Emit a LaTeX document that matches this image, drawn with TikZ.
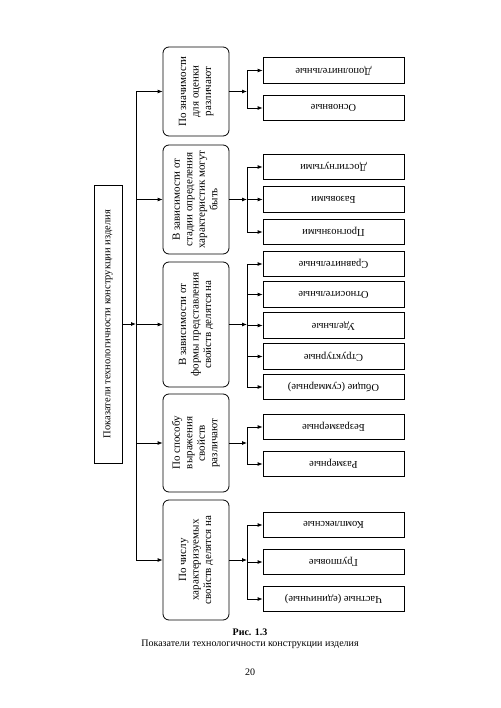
\documentclass[tikz,border=0pt]{standalone}
\usepackage{fontspec}
\setmainfont{Liberation Serif}
\usetikzlibrary{arrows.meta}
\begin{document}
\begin{tikzpicture}[x=1pt,y=-1pt,
    line width=0.8pt,
    arr/.style={-{Latex[length=5pt,width=4pt]}},
    catbox/.style={draw,rounded corners=6pt,minimum width=66pt,inner sep=0pt,
      font=\fontsize{11}{12.5}\selectfont},
    leafbox/.style={draw,minimum width=141pt,minimum height=25.5pt,inner sep=0pt,
      font=\fontsize{10.5}{12}\selectfont}]
    \useasboundingbox[fill=white] (0,0) rectangle (500,708);
    % main box
    \node[draw,minimum width=28pt,minimum height=278pt,inner sep=0pt,
      font=\fontsize{10.5}{12}\selectfont] (main) at (108,324)
      {\rotatebox{90}{Показатели технологичности конструкции изделия}};
    % categories
    \node[catbox,minimum height=89pt] (cat1) at (196,91.5)
      {\rotatebox{90}{\begin{tabular}{@{}c@{}}По значимости\\для оценки\\различают\end{tabular}}};
    \node[catbox,minimum height=109pt] (cat2) at (196,199.5)
      {\rotatebox{90}{\begin{tabular}{@{}c@{}}В зависимости от\\стадии определения\\характеристик могут\\быть\end{tabular}}};
    \node[catbox,minimum height=125pt] (cat3) at (196,324.5)
      {\rotatebox{90}{\begin{tabular}{@{}c@{}}В зависимости от\\формы представления\\свойств делятся на\end{tabular}}};
    \node[catbox,minimum height=98pt] (cat4) at (196,443)
      {\rotatebox{90}{\begin{tabular}{@{}c@{}}По способу\\выражения\\свойств\\различают\end{tabular}}};
    \node[catbox,minimum height=120pt] (cat5) at (196,560)
      {\rotatebox{90}{\begin{tabular}{@{}c@{}}По числу\\характеризуемых\\свойств делятся на\end{tabular}}};
    % trunk
    \coordinate (trunk) at (136,324);
    \draw[arr] (main.east) -- (trunk);
    \draw (trunk |- cat1) -- (trunk |- cat5);
    \foreach \i in {1,...,5}
      \draw[arr] (trunk |- cat\i) -- (cat\i.west);
    % leaves
    \foreach \t/\y [count=\j] in {Дополнительные/70.5,Основные/108}
      \node[leafbox] (la\j) at (333.5,\y) {\rotatebox{180}{\t}};
    \foreach \t/\y [count=\j] in {Достигнутыми/167,Базовыми/199.5,Прогнозными/232}
      \node[leafbox] (lb\j) at (333.5,\y) {\rotatebox{180}{\t}};
    \foreach \t/\y [count=\j] in {Сравнительные/264,Относительные/294.5,Удельные/325.5,Структурные/356.5,Общие (суммарные)/387}
      \node[leafbox] (lc\j) at (333.5,\y) {\rotatebox{180}{\t}};
    \foreach \t/\y [count=\j] in {Безразмерные/427,Размерные/464}
      \node[leafbox] (ld\j) at (333.5,\y) {\rotatebox{180}{\t}};
    \foreach \t/\y [count=\j] in {Комплексные/525,Групповые/562,Частные (единичные)/599}
      \node[leafbox] (le\j) at (333.5,\y) {\rotatebox{180}{\t}};
    % brackets
    \foreach \c/\g/\n in {1/a/2,2/b/3,3/c/5,4/d/2,5/e/3} {
      \coordinate (br\c) at (247,0 |- cat\c);
      \draw[arr] (cat\c.east) -- (br\c);
      \draw (br\c |- l\g1) -- (br\c |- l\g\n);
      \foreach \k in {1,...,\n}
        \draw[arr] (br\c |- l\g\k) -- (l\g\k.west);
    }
    % caption
    \node[font=\bfseries\fontsize{10}{11}\selectfont] (fig) at (250,632) {Рис. 1.3};
    \node[font=\fontsize{10}{11}\selectfont] (cap) at (250,644)
      {Показатели технологичности конструкции изделия};
    \node[font=\fontsize{10}{11}\selectfont] (page) at (250,672) {20};
\end{tikzpicture}
\end{document}
